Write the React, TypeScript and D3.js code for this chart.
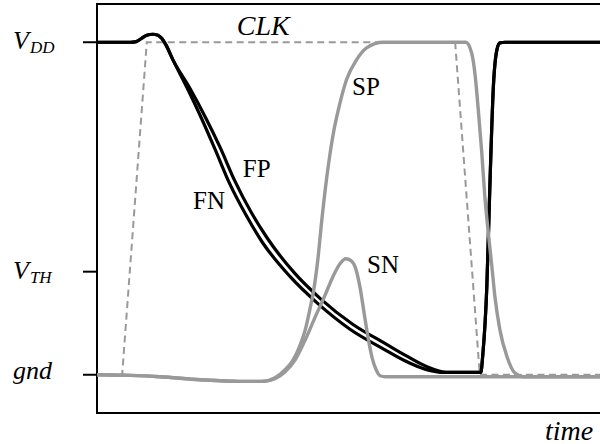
import React from "react";
import * as d3 from "d3";

// time in arbitrary units (0..10), voltage normalised: gnd = 0, VDD = 1
const clkWave = [[0, 0], [0.5, 0], [0.99, 1], [7.12, 1], [7.61, 0], [10, 0]];

const fnWave = [
  [0, 1], [0.66, 1], [0.78, 1.002], [0.89, 1.012], [0.99, 1.021], [1.11, 1.024],
  [1.21, 1.021], [1.29, 1.011], [1.37, 0.992], [1.51, 0.947], [1.79, 0.863],
  [2.09, 0.767], [2.35, 0.677], [2.64, 0.574], [2.96, 0.481], [3.28, 0.4],
  [3.84, 0.295], [4.37, 0.217], [5.03, 0.137], [5.69, 0.078], [6.12, 0.042],
  [6.52, 0.017], [6.91, 0.007], [7.63, 0.007], [7.67, 0.06], [7.75, 0.265],
  [7.81, 0.565], [7.88, 0.866], [7.95, 0.977], [8.01, 0.998], [8.11, 1], [10, 1],
];

const fpWave = [
  [0, 1], [0.66, 1], [0.78, 1.002], [0.89, 1.012], [0.99, 1.021], [1.11, 1.024],
  [1.21, 1.021], [1.29, 1.011], [1.37, 0.992], [1.51, 0.947], [1.83, 0.866],
  [2.17, 0.77], [2.45, 0.683], [2.74, 0.583], [3.06, 0.49], [3.38, 0.412],
  [3.92, 0.307], [4.44, 0.229], [5.09, 0.151], [5.74, 0.093], [6.16, 0.056],
  [6.55, 0.025], [6.95, 0.007], [7.63, 0.007], [7.67, 0.06], [7.75, 0.265],
  [7.81, 0.565], [7.88, 0.866], [7.95, 0.977], [8.01, 0.998], [8.11, 1], [10, 1],
];

const spWave = [
  [0, 0], [0.66, -0.002], [1.25, -0.006], [2.05, -0.015], [2.84, -0.02], [3.28, -0.02],
  [3.54, -0.009], [3.74, 0.015], [3.9, 0.045], [4.04, 0.09], [4.14, 0.135],
  [4.23, 0.195], [4.31, 0.256], [4.39, 0.346], [4.47, 0.466], [4.57, 0.596],
  [4.7, 0.727], [4.83, 0.817], [4.96, 0.887], [5.16, 0.947], [5.36, 0.983],
  [5.69, 1], [7.33, 1], [7.45, 0.967], [7.52, 0.897], [7.58, 0.797], [7.65, 0.667],
  [7.71, 0.537], [7.78, 0.426], [7.85, 0.326], [7.91, 0.236], [8.01, 0.135],
  [8.15, 0.055], [8.31, 0.005], [8.48, -0.006], [10, -0.006],
];

const snWave = [
  [0, 0], [0.66, -0.002], [1.25, -0.006], [2.05, -0.015], [2.84, -0.02], [3.28, -0.02],
  [3.54, -0.012], [3.74, 0.009], [3.94, 0.045], [4.14, 0.105], [4.33, 0.171],
  [4.53, 0.238], [4.69, 0.295], [4.83, 0.334], [4.95, 0.349], [5.05, 0.343],
  [5.15, 0.316], [5.23, 0.262], [5.31, 0.186], [5.39, 0.111], [5.47, 0.051],
  [5.55, 0.015], [5.63, -0.003], [5.73, -0.006], [10, -0.006],
];

const levelValues = [1, 0.31, 0];
const levelNames = ["V", "V", "gnd"];
const levelSubs = ["DD", "TH", ""];

const curveNames = ["FP", "FN", "SP", "SN"];
const curveNameAt = [[2.9, 0.595], [1.91, 0.499], [5.07, 0.842], [5.37, 0.307]];

const width = 600;
const height = 444;
const serifFont = "Times New Roman, Liberation Serif, serif";

const x = d3.scaleLinear().domain([0, 10]).range([97, 600]);
const y = d3.scaleLinear().domain([-0.115, 1.115]).range([413, 4]);

const smooth = d3.line()
  .x(d => x(d[0]))
  .y(d => y(d[1]))
  .curve(d3.curveMonotoneX);

const straight = d3.line()
  .x(d => x(d[0]))
  .y(d => y(d[1]));

const App = () => {
  const [x0, x1] = x.range();
  const [yb, yt] = y.range();

  return (
    <svg
      width={width}
      height={height}
      style={{ position: "absolute", left: 0, top: 0 }}
    >
      {/* frame, open on the right */}
      <path d={`M${x1},${yt}H${x0}V${yb}H${x1}`} fill="none" stroke="#000" strokeWidth={2} />

      {levelValues.map((v, i) => (
        <line key={"t" + i} x1={x0 - 14} x2={x0} y1={y(v)} y2={y(v)} stroke="#000" strokeWidth={2} />
      ))}

      <path
        d={straight(clkWave)}
        fill="none"
        stroke="#999"
        strokeWidth={2}
        strokeDasharray="7,4.5"
      />

      {[fnWave, fpWave].map((w, i) => (
        <path key={"b" + i} d={smooth(w)} fill="none" stroke="#000" strokeWidth={3.2} strokeLinejoin="round" />
      ))}

      {[snWave, spWave].map((w, i) => (
        <path key={"g" + i} d={smooth(w)} fill="none" stroke="#999" strokeWidth={3.4} strokeLinejoin="round" />
      ))}

      {levelValues.map((v, i) => (
        <text
          key={"l" + i}
          x={13}
          y={y(v) + (levelSubs[i] ? 7 : 4)}
          style={{ fontFamily: serifFont, fontStyle: "italic", fontSize: 26 }}
        >
          {levelNames[i]}
          {levelSubs[i] ? <tspan dx={1} dy={4} style={{ fontSize: 17 }}>{levelSubs[i]}</tspan> : null}
        </text>
      ))}

      {curveNames.map((name, i) => (
        <text
          key={name}
          x={x(curveNameAt[i][0])}
          y={y(curveNameAt[i][1])}
          style={{ fontFamily: serifFont, fontSize: 25 }}
        >
          {name}
        </text>
      ))}

      <text
        x={x(2.78)}
        y={y(1.022)}
        style={{ fontFamily: serifFont, fontStyle: "italic", fontSize: 28 }}
      >
        CLK
      </text>

      <text
        x={545}
        y={440}
        style={{ fontFamily: serifFont, fontStyle: "italic", fontSize: 28 }}
      >
        time
      </text>
    </svg>
  );
};

export default App;
